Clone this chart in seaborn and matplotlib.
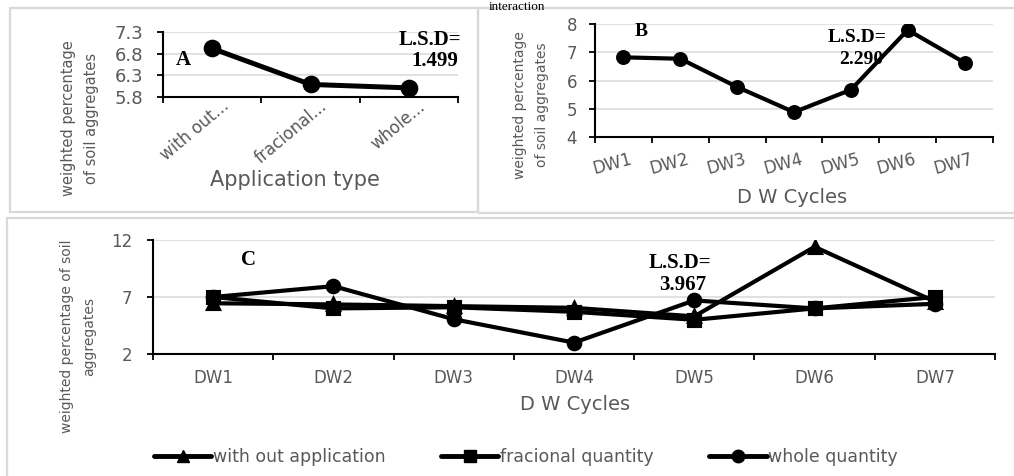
import numpy as np
import pandas as pd
import matplotlib
matplotlib.use("Agg")
import matplotlib.pyplot as plt
from matplotlib.patches import Rectangle
from matplotlib.lines import Line2D
from matplotlib.transforms import ScaledTranslation
import seaborn as sns

# ---- data -------------------------------------------------------------
# (A) effect of application type
application_types = ["with out...", "fracional...", "whole..."]
application_means = [6.92, 6.09, 6.01]
lsd_application = "1.499"

# (B) effect of drying-wetting cycles
cycles = ["DW1", "DW2", "DW3", "DW4", "DW5", "DW6", "DW7"]
cycle_means = [6.82, 6.77, 5.77, 4.88, 5.67, 7.79, 6.63]
lsd_cycles = "2.290"

# (C) interaction of application type and cycles
treatments = ["with out application", "fracional quantity", "whole quantity"]
without_application = [6.45, 6.35, 6.2, 6.05, 5.3, 11.4, 6.6]
fracional_quantity = [7.0, 6.0, 6.1, 5.7, 5.0, 6.0, 7.0]
whole_quantity = [7.0, 7.95, 5.05, 3.0, 6.7, 6.0, 6.4]
lsd_interaction = "3.967"

yticks_a = [5.8, 6.3, 6.8, 7.3]
yticks_b = [4, 5, 6, 7, 8]
yticks_c = [2, 7, 12]

# ---- style ------------------------------------------------------------
sns.set_style("ticks")
plt.rcParams["font.family"] = ["DejaVu Sans"]
GRAY = "#595959"
GRID = "#d9d9d9"
SERIF = ["Liberation Serif", "DejaVu Serif"]

W, H = 1014, 476
fig = plt.figure(figsize=(W / 100, H / 100), dpi=100)
fig.patch.set_facecolor("white")


def px_box(x0, y0, x1, y1):
    return [x0 / W, 1 - y1 / H, (x1 - x0) / W, (y1 - y0) / H]


def fx(x):
    return x / W


def fy(y):
    return 1 - y / H


# chart-area frames
for (x0, y0, x1, y1) in [(10, 8, 478, 212), (478, 8, 1020, 213), (7, 218, 1020, 480)]:
    fig.add_artist(Rectangle((fx(x0), fy(y1)), (x1 - x0) / W, (y1 - y0) / H,
                             transform=fig.transFigure, fill=False,
                             edgecolor=GRID, linewidth=1.6))

axA = fig.add_axes(px_box(163, 32, 458, 97))
axB = fig.add_axes(px_box(595, 24, 993, 137))
axC = fig.add_axes(px_box(153, 240, 995, 354))

# ---- plots ------------------------------------------------------------
sns.pointplot(x=application_types, y=application_means, color="black",
              markers="o", linestyles="-", errorbar=None, ax=axA,
              markersize=10, linewidth=3.6)

sns.pointplot(x=cycles, y=cycle_means, color="black", markers="o",
              linestyles="-", errorbar=None, ax=axB,
              markersize=8.5, linewidth=3.0)

df = pd.DataFrame({
    "cycle": cycles * 3,
    "value": without_application + fracional_quantity + whole_quantity,
    "treatment": np.repeat(treatments, len(cycles)),
})
sns.pointplot(data=df, x="cycle", y="value", hue="treatment",
              hue_order=treatments, palette=["black"] * 3,
              markers=["^", "s", "o"], linestyles=["-", "-", "-"],
              errorbar=None, dodge=False, legend=False, ax=axC,
              markersize=9, linewidth=3.0)


def style_axes(ax, yticks, n, ytick_size, ypad):
    ax.set_xlim(-0.5, n - 0.5)
    ax.set_ylim(yticks[0], yticks[-1])
    ax.set_yticks(yticks)
    ax.set_xticks(np.arange(-0.5, n), minor=True)
    ax.yaxis.grid(True, color=GRID, linewidth=1.1)
    ax.xaxis.grid(False)
    ax.set_axisbelow(True)
    for s in ["top", "right"]:
        ax.spines[s].set_visible(False)
    for s in ["left", "bottom"]:
        ax.spines[s].set_linewidth(1.5)
        ax.spines[s].set_color("black")
    ax.tick_params(axis="x", which="major", length=0, bottom=True)
    ax.tick_params(axis="x", which="minor", length=4.3, width=1.3,
                   color="black", direction="out", bottom=True)
    ax.tick_params(axis="y", length=4.3, width=1.3, color="black",
                   direction="out", left=True, labelcolor=GRAY,
                   labelsize=ytick_size, pad=ypad)
    ax.set_xlabel("")
    ax.set_ylabel("")
    ax.set_facecolor("none")


style_axes(axA, yticks_a, len(application_types), 13, 10)
axA.set_yticklabels([f"{v:.1f}" for v in yticks_a])
style_axes(axB, yticks_b, len(cycles), 12, 8.6)
style_axes(axC, yticks_c, len(cycles), 12, 10.8)

# category tick labels
axA.set_xticks(range(len(application_types)))
axA.set_xticklabels(application_types, rotation=40, ha="right", va="center",
                    rotation_mode="anchor", color=GRAY, fontsize=12)
axA.tick_params(axis="x", which="major", pad=0)
offA = ScaledTranslation(14 / 100, -7 / 100, fig.dpi_scale_trans)
for lab in axA.get_xticklabels():
    lab.set_transform(lab.get_transform() + offA)

axB.set_xticks(range(len(cycles)))
axB.set_xticklabels(cycles, rotation=15, ha="right", va="top",
                    rotation_mode="anchor", color=GRAY, fontsize=12)
axB.tick_params(axis="x", which="major", pad=0)
offB = ScaledTranslation(6 / 100, -13 / 100, fig.dpi_scale_trans)
for lab in axB.get_xticklabels():
    lab.set_transform(lab.get_transform() + offB)

axC.set_xticks(range(len(cycles)))
axC.set_xticklabels(cycles, color=GRAY, fontsize=12)
axC.tick_params(axis="x", which="major", pad=10.8)

# axis titles
axA.set_ylabel("weighted percentage\nof soil aggregates", fontsize=10.5,
               color=GRAY, linespacing=1.65)
axA.yaxis.set_label_coords(fx(99), fy(118), transform=fig.transFigure)
axA.set_xlabel("Application type", fontsize=15, color=GRAY)
axA.xaxis.set_label_coords(fx(295), fy(170), transform=fig.transFigure)

axB.set_ylabel("weighted percentage\nof soil aggregates", fontsize=10,
               color=GRAY, linespacing=1.76)
axB.yaxis.set_label_coords(fx(549), fy(105), transform=fig.transFigure)
axB.set_xlabel("D W Cycles", fontsize=14, color=GRAY)
axB.xaxis.set_label_coords(fx(792), fy(188), transform=fig.transFigure)

axC.set_ylabel("weighted percentage of soil\naggregates", fontsize=10,
               color=GRAY, linespacing=1.76)
axC.yaxis.set_label_coords(fx(96), fy(336), transform=fig.transFigure)
axC.set_xlabel("D W Cycles", fontsize=14, color=GRAY)
axC.xaxis.set_label_coords(fx(575), fy(395), transform=fig.transFigure)


# panel letters and L.S.D values (drawn beneath the data lines)
def note(ax, x, y, s, size):
    ax.text(fx(x), fy(y), s, transform=fig.transFigure, ha="center",
            va="center", fontsize=size, fontweight="bold", family=SERIF,
            color="black", zorder=1, clip_on=False)


note(axA, 183, 60, "A", 15)
note(axA, 430, 40, "L.S.D=", 15)
note(axA, 435, 61, lsd_application, 15)

note(axB, 641, 32, "B", 14)
note(axB, 857, 37, "L.S.D=", 14)
note(axB, 861, 60, lsd_cycles, 14)

note(axC, 249, 260, "C", 15)
note(axC, 680, 263, "L.S.D=", 15)
note(axC, 683, 285, lsd_interaction, 15)

fig.text(fx(517), fy(1), "interaction", ha="center", va="top",
         fontsize=9.5, family=SERIF, color="black")

# legend for the interaction panel
handles = [Line2D([], [], color="black", linewidth=3.5, marker=m,
                  markersize=9) for m in ["^", "s", "o"]]
fig.legend(handles, treatments, loc="center",
           bbox_to_anchor=(fx(526), fy(457)), ncol=3, frameon=False,
           fontsize=12.5, handlelength=3.3, handletextpad=0.1,
           columnspacing=3.2, labelcolor=GRAY)

fig.savefig("out.png", dpi=100, facecolor="white")
